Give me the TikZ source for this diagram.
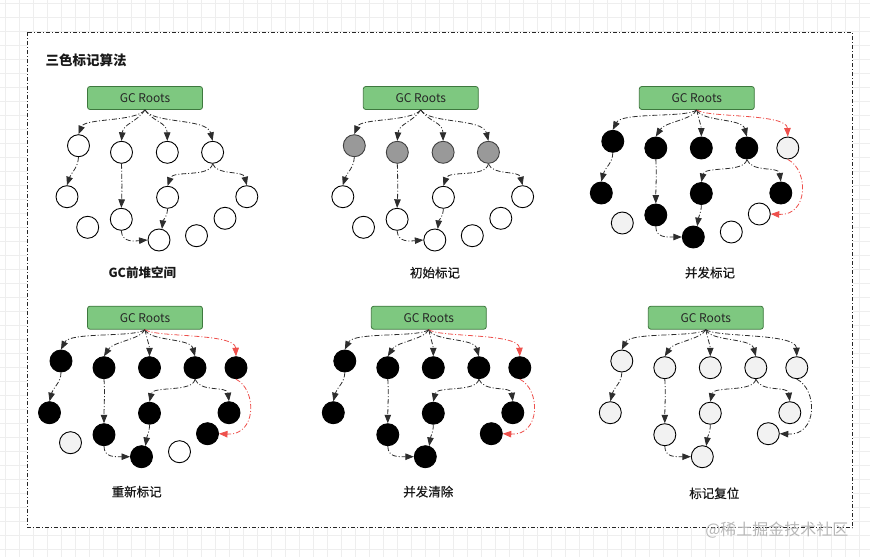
\documentclass[tikz,border=0pt]{standalone}
\usepackage{fontspec}
\setmainfont{Noto Sans CJK SC}
\newfontfamily\lblfont[FakeBold=0.6]{Noto Sans CJK SC}
\usetikzlibrary{arrows.meta}
\definecolor{rootfill}{RGB}{126,200,128}
\definecolor{rootdraw}{RGB}{62,120,62}
\definecolor{edgecol}{RGB}{45,45,45}
\definecolor{redcol}{RGB}{238,80,76}
\definecolor{lgray}{RGB}{242,242,242}
\definecolor{mgray}{RGB}{153,153,153}
\definecolor{gridcol}{RGB}{238,238,238}
\tikzset{
  root/.style={draw=rootdraw, fill=rootfill, rounded corners=2.5pt, minimum width=115pt,
    minimum height=23pt, line width=0.8pt, inner sep=0pt,
    font=\fontsize{12}{14}\selectfont, text=black!85},
  obj/.style={circle, draw=black, line width=0.9pt, minimum size=22pt, inner sep=0pt},
  wobj/.style={obj, fill=white},
  bobj/.style={obj, fill=black},
  gobj/.style={obj, fill=mgray, draw=black!75},
  lobj/.style={obj, fill=lgray},
  edge/.style={draw=edgecol, line width=0.8pt, dash pattern=on 5pt off 2pt on 1pt off 2pt,
    -{Triangle[length=8.5pt,width=6.5pt]}},
  redge/.style={edge, draw=redcol},
  lbl/.style={font=\lblfont\fontsize{12.5}{15}\selectfont, text=black!90},
  gridline/.style={draw=gridcol, line width=0.5pt}
}
\newcommand\edgesA[1]{%
  \draw[edge] (#1r.south) .. controls (-10,24) and (-60,20) .. (#1c1.north);
  \draw[edge] (#1r.south) .. controls (-8,24) and (-22,26) .. (#1c2.north);
  \draw[edge] (#1r.south) .. controls (8,24) and (22,24) .. (#1c3.north);
  \draw[edge] (#1r.south) .. controls (8,26) and (62,20) .. (#1c4.north);
  \draw[edge] (#1c1.south) .. controls (-67,70) and (-74,75) .. (#1c5.north);
  \draw[edge] (#1c2.south) .. controls (-23,80) and (-23,95) .. (#1c6.north);
  \draw[edge] (#1c4.south) .. controls (65,80) and (28,72) .. (#1c7.north);
  \draw[edge] (#1c4.south) .. controls (72,78) and (98,72) .. (#1c8.north);
  \draw[edge] (#1c7.south) .. controls (22,120) and (18,122) .. (#1c10.75);
  \draw[edge] (#1c6.south) .. controls (-23,145) and (-10,143) .. (#1c10.west);
}
\newcommand\edgesB[2]{%
  \draw[edge] (#1r.south) .. controls (-10,20) and (-75,14) .. (#1c1.north);
  \draw[edge] (#1r.south) .. controls (-5,22) and (-32,24) .. (#1c2.north);
  \draw[edge] (#1r.south) .. controls (2,22) and (4.5,28) .. (#1c3.north);
  \draw[edge] (#1r.south) .. controls (5,24) and (45,20) .. (#1c4.north);
  \draw[#2] (#1r.south) .. controls (10,20) and (90,15) .. (#1c5.north);
  \draw[edge] (#1c1.south) .. controls (-84,65) and (-92,70) .. (#1c6.north);
  \draw[edge] (#1c2.south) .. controls (-40,75) and (-41,90) .. (#1c7.north);
  \draw[edge] (#1c4.south) .. controls (48,75) and (8,68) .. (#1c8.north);
  \draw[edge] (#1c4.south) .. controls (55,75) and (82,68) .. (#1c9.north);
  \draw[edge] (#1c8.south) .. controls (4.5,115) and (2,118) .. (#1c11.70);
  \draw[edge] (#1c7.south) .. controls (-41,140) and (-30,139) .. (#1c11.west);
  \draw[#2] (#1c5.south) .. controls (112,72) and (112,118) .. (#1c13.east);
}
\begin{document}
\begin{tikzpicture}[x=1pt, y=-1pt]
  \useasboundingbox (0,0) rectangle (870,557);
  \fill[white] (0,0) rectangle (870,557);
  \foreach \i in {5.3,19.3,...,870} \draw[gridline] (\i,0) -- (\i,557);
  \foreach \j in {3,17,...,557} \draw[gridline] (0,\j) -- (870,\j);
  \draw[black!85, line width=0.8pt, dash pattern=on 4pt off 2pt on 1pt off 2pt, fill=white]
    (27.3,32.3) rectangle (852.7,527.7);
  \node[anchor=west, font=\fontsize{13.5}{16}\selectfont\bfseries, text=black!90] (title) at (42,60) {三色标记算法};

  % Panel 1
  \begin{scope}[shift={(145,98)}]
    \node[root] (ar) at (0,0) {GC Roots};
    \node[wobj] (ac1) at (-66.5,47.7) {};
    \node[wobj] (ac2) at (-23.5,54.3) {};
    \node[wobj] (ac3) at (22.3,54.3) {};
    \node[wobj] (ac4) at (67.6,54.3) {};
    \node[wobj] (ac5) at (-78,98.7) {};
    \node[wobj] (ac6) at (-23.7,121.3) {};
    \node[wobj] (ac7) at (22.6,99.3) {};
    \node[wobj] (ac8) at (101.8,98.7) {};
    \node[wobj] (ac9) at (-57.3,129.3) {};
    \node[wobj] (ac10) at (14,142) {};
    \node[wobj] (ac11) at (51.5,137.7) {};
    \node[wobj] (ac12) at (80,120.3) {};
    \edgesA{a}
  \end{scope}
  \node[font=\fontsize{12.5}{15}\selectfont\bfseries, text=black!90] (la) at (142.3,272.7) {GC前堆空间};

  % Panel 2
  \begin{scope}[shift={(420.8,98)}]
    \node[root] (br) at (0,0) {GC Roots};
    \node[gobj] (bc1) at (-66.5,47.7) {};
    \node[gobj] (bc2) at (-23.5,54.3) {};
    \node[gobj] (bc3) at (22.3,54.3) {};
    \node[gobj] (bc4) at (67.6,54.3) {};
    \node[wobj] (bc5) at (-78,98.7) {};
    \node[wobj] (bc6) at (-23.7,121.3) {};
    \node[wobj] (bc7) at (22.6,99.3) {};
    \node[wobj] (bc8) at (101.8,98.7) {};
    \node[wobj] (bc9) at (-57.3,129.3) {};
    \node[wobj] (bc10) at (14,142) {};
    \node[wobj] (bc11) at (51.5,137.7) {};
    \node[wobj] (bc12) at (80,120.3) {};
    \edgesA{b}
  \end{scope}
  \node[lbl] (lb) at (435,272.7) {初始标记};

  % Panel 3
  \begin{scope}[shift={(696.8,98)}]
    \node[root] (cr) at (0,0) {GC Roots};
    \node[bobj] (cc1) at (-84,43.3) {};
    \node[bobj] (cc2) at (-41,50) {};
    \node[bobj] (cc3) at (4.5,50) {};
    \node[bobj] (cc4) at (50,50) {};
    \node[lobj] (cc5) at (91,50) {};
    \node[bobj] (cc6) at (-95.5,95) {};
    \node[bobj] (cc7) at (-41,117) {};
    \node[bobj] (cc8) at (4.5,95.5) {};
    \node[bobj] (cc9) at (84,95) {};
    \node[lobj] (cc10) at (-74.5,125) {};
    \node[bobj] (cc11) at (-3.5,139) {};
    \node[wobj] (cc12) at (34.5,134) {};
    \node[wobj] (cc13) at (62.5,116) {};
    \edgesB{c}{redge}
  \end{scope}
  \node[lbl] (lc) at (710,272.7) {并发标记};

  % Panel 4
  \begin{scope}[shift={(145,317.7)}]
    \node[root] (dr) at (0,0) {GC Roots};
    \node[bobj] (dc1) at (-84,43.3) {};
    \node[bobj] (dc2) at (-41,50) {};
    \node[bobj] (dc3) at (4.5,50) {};
    \node[bobj] (dc4) at (50,50) {};
    \node[bobj] (dc5) at (91,50) {};
    \node[bobj] (dc6) at (-95.5,95) {};
    \node[bobj] (dc7) at (-41,117) {};
    \node[bobj] (dc8) at (4.5,95.5) {};
    \node[bobj] (dc9) at (84,95) {};
    \node[lobj] (dc10) at (-74.5,125) {};
    \node[bobj] (dc11) at (-3.5,139) {};
    \node[wobj] (dc12) at (34.5,134) {};
    \node[bobj] (dc13) at (62.5,116) {};
    \edgesB{d}{redge}
  \end{scope}
  \node[lbl] (ld) at (136.7,491.7) {重新标记};

  % Panel 5
  \begin{scope}[shift={(428.8,317.7)}]
    \node[root] (er) at (0,0) {GC Roots};
    \node[bobj] (ec1) at (-84,43.3) {};
    \node[bobj] (ec2) at (-41,50) {};
    \node[bobj] (ec3) at (4.5,50) {};
    \node[bobj] (ec4) at (50,50) {};
    \node[bobj] (ec5) at (91,50) {};
    \node[bobj] (ec6) at (-95.5,95) {};
    \node[bobj] (ec7) at (-41,117) {};
    \node[bobj] (ec8) at (4.5,95.5) {};
    \node[bobj] (ec9) at (84,95) {};
    \node[bobj] (ec11) at (-3.5,139) {};
    \node[bobj] (ec13) at (62.5,116) {};
    \edgesB{e}{redge}
  \end{scope}
  \node[lbl] (le) at (428.3,491.7) {并发清除};

  % Panel 6
  \begin{scope}[shift={(705.8,317.7)}]
    \node[root] (fr) at (0,0) {GC Roots};
    \node[lobj] (fc1) at (-84,43.3) {};
    \node[lobj] (fc2) at (-41,50) {};
    \node[lobj] (fc3) at (4.5,50) {};
    \node[lobj] (fc4) at (50,50) {};
    \node[lobj] (fc5) at (91,50) {};
    \node[lobj] (fc6) at (-95.5,95) {};
    \node[lobj] (fc7) at (-41,117) {};
    \node[lobj] (fc8) at (4.5,95.5) {};
    \node[lobj] (fc9) at (84,95) {};
    \node[lobj] (fc11) at (-3.5,139) {};
    \node[lobj] (fc13) at (62.5,116) {};
    \edgesB{f}{edge}
  \end{scope}
  \node[lbl] (lf) at (714.3,493.3) {标记复位};

  \node[anchor=east, font=\fontsize{16}{18}\selectfont, text=black!28] (wm) at (852,530) {@稀土掘金技术社区};
\end{tikzpicture}
\end{document}
